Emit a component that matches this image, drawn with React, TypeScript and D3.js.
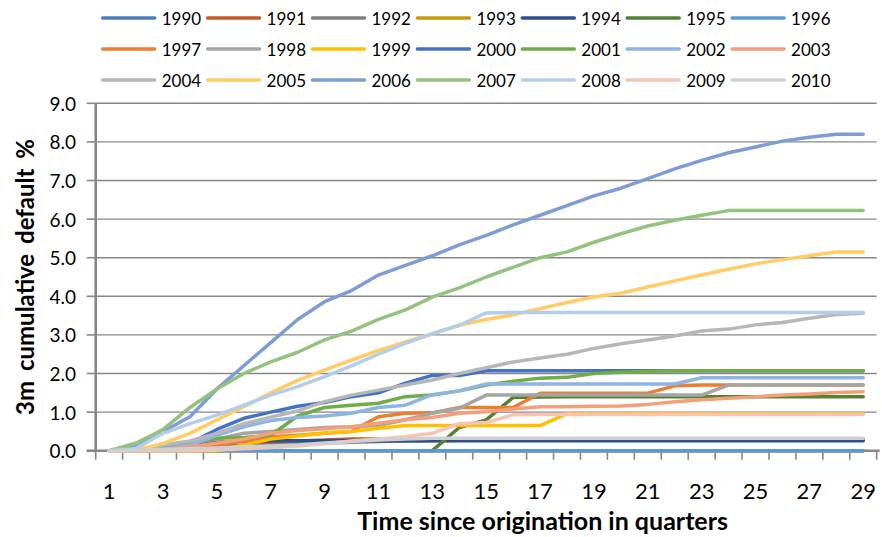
import * as d3 from "d3";

const quarters = [1, 2, 3, 4, 5, 6, 7, 8, 9, 10, 11, 12, 13, 14, 15, 16, 17, 18, 19, 20, 21, 22, 23, 24, 25, 26, 27, 28, 29];
const tickLabels = [1, 3, 5, 7, 9, 11, 13, 15, 17, 19, 21, 23, 25, 27, 29];
const yTicks = [0, 1, 2, 3, 4, 5, 6, 7, 8, 9];

const years = ["1990", "1991", "1992", "1993", "1994", "1995", "1996", "1997", "1998", "1999", "2000",
  "2001", "2002", "2003", "2004", "2005", "2006", "2007", "2008", "2009", "2010"];
const colors = ["#4a7ebb", "#c55a28", "#7f7f7f", "#c89b0c", "#2e4f8f", "#548235", "#5b9bd5",
  "#ed7d31", "#a5a5a5", "#ffc000", "#4472c4", "#70ad47", "#8db4e2", "#f3a07a",
  "#b7b7b7", "#ffcc66", "#7e9cd6", "#95c27e", "#b4cdea", "#f8c3b4", "#d0d0d0"];

type V = number | null;
const v1990: V[] = [0, 0, 0, 0, 0, 0, 0, 0, 0, 0, 0, 0, 0, 0, 0, 0, 0, 0, 0, 0, 0, 0, 0, 0, 0, 0, 0, 0, 0];
const v1991: V[] = [0, 0, 0.02, 0.05, 0.1, 0.15, 0.2, 0.25, 0.28, 0.3, 0.3, 0.3, 0.3, 0.3, 0.3, 0.3, 0.3, 0.3, 0.3, 0.3, 0.3, 0.3, 0.3, 0.3, 0.3, 0.3, 0.3, 0.3, 0.3];
const v1992: V[] = [0, 0, 0.02, 0.05, 0.08, 0.12, 0.15, 0.18, 0.2, 0.22, 0.24, 0.25, 0.26, 0.27, 0.28, 0.28, 0.28, 0.28, 0.28, 0.28, 0.28, 0.28, 0.28, 0.28, 0.28, 0.28, 0.28, 0.28, 0.28];
const v1993: V[] = [0, 0, 0, 0, 0, 0, 0, 0, 0, 0, 0, 0, 0, 0, 0, 0, 0, 0, 0, 0, 0, 0, 0, 0, 0, 0, 0, 0, 0];
const v1994: V[] = [0, 0, 0.05, 0.15, 0.22, 0.25, 0.26, 0.26, 0.26, 0.26, 0.26, 0.26, 0.26, 0.26, 0.26, 0.26, 0.26, 0.26, 0.26, 0.26, 0.26, 0.26, 0.26, 0.26, 0.26, 0.26, 0.26, 0.26, 0.26];
const v1995: V[] = [null, null, null, null, null, null, null, null, null, null, null, null, 0, 0.6, 0.8, 1.38, 1.39, 1.4, 1.4, 1.4, 1.4, 1.4, 1.4, 1.4, 1.4, 1.4, 1.4, 1.4, 1.4];
const v1996: V[] = [0, 0, 0, 0, 0, 0, 0, 0, 0, 0, 0, 0, 0, 0, 0, 0, 0, 0, 0, 0, 0, 0, 0, 0, 0, 0, 0, 0, 0];
const v1997: V[] = [0, 0, 0.02, 0.1, 0.15, 0.25, 0.36, 0.4, 0.45, 0.5, 0.88, 0.97, 0.98, 1.12, 1.12, 1.12, 1.49, 1.49, 1.49, 1.49, 1.49, 1.68, 1.7, 1.7, 1.7, 1.7, 1.7, 1.7, 1.7];
const v1998: V[] = [0, 0, 0.1, 0.2, 0.3, 0.45, 0.5, 0.55, 0.6, 0.62, 0.65, 0.8, 0.97, 1.1, 1.44, 1.44, 1.44, 1.44, 1.44, 1.44, 1.44, 1.44, 1.44, 1.7, 1.7, 1.7, 1.7, 1.7, 1.7];
const v1999: V[] = [0, 0, 0, 0, 0, 0.15, 0.3, 0.38, 0.46, 0.5, 0.58, 0.65, 0.65, 0.65, 0.65, 0.65, 0.65, 0.96, 0.96, 0.96, 0.96, 0.96, 0.96, 0.96, 0.96, 0.96, 0.96, 0.96, 0.96];
const v2000: V[] = [0, 0.02, 0.1, 0.2, 0.55, 0.84, 1.0, 1.15, 1.25, 1.4, 1.5, 1.75, 1.95, 1.95, 2.07, 2.07, 2.07, 2.07, 2.07, 2.07, 2.07, 2.07, 2.07, 2.07, 2.07, 2.07, 2.07, 2.07, 2.07];
const v2001: V[] = [0, 0, 0.1, 0.2, 0.32, 0.34, 0.4, 0.9, 1.12, 1.18, 1.23, 1.4, 1.44, 1.55, 1.7, 1.8, 1.88, 1.9, 2.0, 2.03, 2.05, 2.07, 2.07, 2.07, 2.07, 2.07, 2.07, 2.07, 2.07];
const v2002: V[] = [0, 0, 0.05, 0.15, 0.4, 0.62, 0.78, 0.86, 0.9, 0.97, 1.12, 1.18, 1.45, 1.55, 1.73, 1.73, 1.73, 1.73, 1.73, 1.73, 1.73, 1.73, 1.89, 1.89, 1.89, 1.89, 1.89, 1.89, 1.89];
const v2003: V[] = [0, 0, 0.02, 0.1, 0.2, 0.3, 0.45, 0.52, 0.57, 0.62, 0.71, 0.8, 0.86, 0.97, 1.01, 1.08, 1.14, 1.14, 1.15, 1.16, 1.2, 1.27, 1.32, 1.36, 1.4, 1.44, 1.47, 1.51, 1.53];
const v2004: V[] = [0, 0.02, 0.15, 0.25, 0.45, 0.7, 0.87, 1.03, 1.27, 1.44, 1.57, 1.7, 1.83, 2.0, 2.15, 2.3, 2.4, 2.5, 2.65, 2.77, 2.87, 2.97, 3.1, 3.15, 3.26, 3.32, 3.43, 3.53, 3.56];
const v2005: V[] = [0, 0.02, 0.19, 0.45, 0.8, 1.14, 1.5, 1.82, 2.09, 2.35, 2.6, 2.82, 3.03, 3.25, 3.4, 3.52, 3.68, 3.84, 3.98, 4.08, 4.24, 4.4, 4.55, 4.7, 4.84, 4.95, 5.05, 5.15, 5.15];
const v2006: V[] = [0, 0.1, 0.5, 0.88, 1.6, 2.2, 2.8, 3.4, 3.86, 4.15, 4.55, 4.8, 5.05, 5.33, 5.58, 5.85, 6.1, 6.35, 6.6, 6.8, 7.05, 7.3, 7.52, 7.72, 7.87, 8.02, 8.12, 8.2, 8.2];
const v2007: V[] = [0, 0.2, 0.55, 1.12, 1.6, 2.0, 2.3, 2.55, 2.87, 3.1, 3.4, 3.65, 3.98, 4.22, 4.5, 4.75, 5.0, 5.15, 5.4, 5.62, 5.82, 5.97, 6.1, 6.22, 6.22, 6.22, 6.22, 6.22, 6.22];
const v2008: V[] = [0, 0.06, 0.45, 0.7, 0.92, 1.18, 1.44, 1.66, 1.92, 2.2, 2.5, 2.78, 3.03, 3.25, 3.57, 3.58, 3.58, 3.58, 3.58, 3.58, 3.58, 3.58, 3.58, 3.58, 3.58, 3.58, 3.58, 3.58, 3.58];
const v2009: V[] = [0, 0, 0, 0, 0.02, 0.05, 0.08, 0.12, 0.18, 0.25, 0.3, 0.36, 0.45, 0.7, 0.73, 0.93, 0.94, 0.94, 0.94, 0.94, 0.94, 0.94, 0.94, 0.94, 0.94, 0.94, 0.94, 0.94, 0.94];
const v2010: V[] = [0, 0.01, 0.03, 0.05, 0.07, 0.1, 0.12, 0.15, 0.2, 0.24, 0.28, 0.3, 0.32, 0.32, 0.32, 0.32, 0.32, 0.32, 0.32, 0.32, 0.32, 0.32, 0.32, 0.32, 0.32, 0.32, 0.32, 0.32, 0.32];

const seriesValues = [v1990, v1991, v1992, v1993, v1994, v1995, v1996, v1997, v1998, v1999, v2000,
  v2001, v2002, v2003, v2004, v2005, v2006, v2007, v2008, v2009, v2010];

const W = 882;
const H = 537;
const left = 95.7;
const right = 876.7;
const top = 103.3;
const bottom = 450.7;
const font = "Lato, 'Open Sans', sans-serif";
const axisColor = "#878787";

export default function App() {
  const x = d3.scaleBand<number>().domain(quarters).range([left, right]).padding(0);
  const cx = (q: number) => (x(q) as number) + x.bandwidth() / 2;
  const y = d3.scaleLinear().domain([0, 9]).range([bottom, top]);

  const line = d3
    .line<V>()
    .defined((d) => d !== null)
    .x((_, i) => cx(quarters[i]))
    .y((d) => y(d as number));

  const boundaries = [...quarters.map((q) => x(q) as number), right];

  return (
    <svg width={W} height={H} style={{ position: "absolute", left: 0, top: 0, background: "#fff" }}>
      {/* legend */}
      {years.map((yr, i) => {
        const col = i % 7;
        const row = Math.floor(i / 7);
        const lx = 102.7 + col * 104.9;
        const ly = 18 + row * 31;
        return (
          <g key={yr}>
            <line x1={lx} x2={lx + 52} y1={ly} y2={ly} stroke={colors[i]} strokeWidth={3.5} strokeLinecap="round" />
            <text x={lx + 59} y={ly} dominantBaseline="central" fontFamily={font} fontSize={17} fill="#000">
              {yr}
            </text>
          </g>
        );
      })}

      {/* gridlines */}
      {yTicks.filter((t) => t > 0).map((t) => (
        <line key={t} x1={left} x2={right} y1={y(t)} y2={y(t)} stroke={axisColor} strokeWidth={1.4} />
      ))}

      {/* y axis */}
      <line x1={left} x2={left} y1={top} y2={bottom} stroke={axisColor} strokeWidth={2.6} />
      {yTicks.map((t) => (
        <g key={t}>
          <line x1={left - 9} x2={left} y1={y(t)} y2={y(t)} stroke={axisColor} strokeWidth={1.6} />
          <text x={76} y={y(t)} textAnchor="end" dominantBaseline="central" fontFamily={font} fontSize={19} fill="#000">
            {t.toFixed(1)}
          </text>
        </g>
      ))}

      {/* x axis */}
      <line x1={left - 9} x2={right + 3} y1={bottom} y2={bottom} stroke={axisColor} strokeWidth={2.6} />
      {boundaries.map((b, i) => (
        <line key={i} x1={b} x2={b} y1={bottom} y2={bottom + 9} stroke={axisColor} strokeWidth={1.6} />
      ))}
      {tickLabels.map((q) => (
        <text key={q} x={cx(q)} y={490} textAnchor="middle" dominantBaseline="central" fontFamily={font} fontSize={22} fill="#000">
          {q}
        </text>
      ))}

      {/* series */}
      <g fill="none" strokeWidth={3.5} strokeLinejoin="round" strokeLinecap="round">
        {seriesValues.map((vals, i) => (
          <path key={years[i]} d={line(vals) as string} stroke={colors[i]} />
        ))}
      </g>

      {/* axis titles */}
      <text
        transform={`translate(24,${(top + bottom) / 2}) rotate(-90)`}
        textAnchor="middle"
        dominantBaseline="central"
        fontFamily={font}
        fontWeight="bold"
        fontSize={24}
        wordSpacing={4}
        fill="#000"
      >
        3m cumulative default %
      </text>
      <text x={728} y={520} textAnchor="end" dominantBaseline="central" fontFamily={font} fontWeight="bold" fontSize={25} fill="#000">
        Time since origination in quarters
      </text>
    </svg>
  );
}
